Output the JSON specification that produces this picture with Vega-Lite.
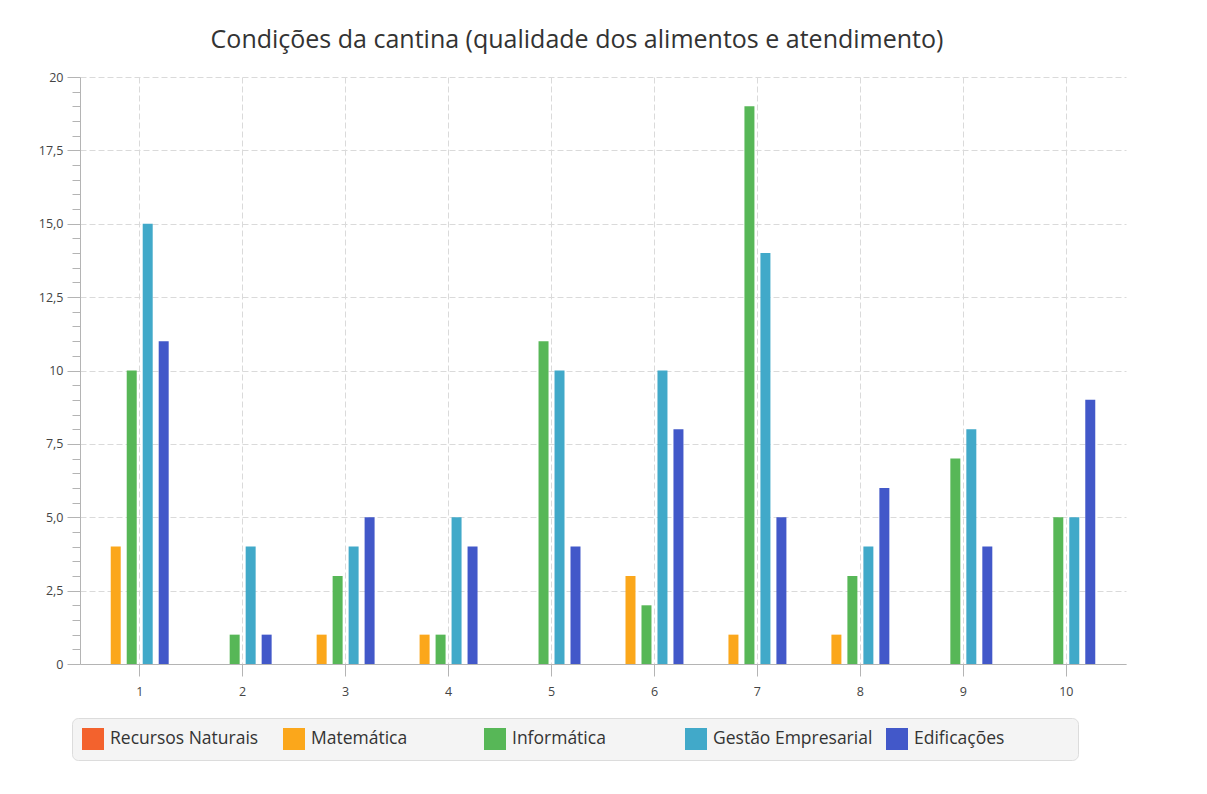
{
  "$schema": "https://vega.github.io/schema/vega-lite/v6.json",
  "autosize": "none",
  "width": 1046,
  "height": 587,
  "padding": {"left": 80, "top": 77, "right": 81, "bottom": 130},
  "background": "white",
  "title": {
    "text": "Condições da cantina (qualidade dos alimentos e atendimento)",
    "font": "Open Sans",
    "fontSize": 25,
    "fontWeight": "normal",
    "color": "#333333",
    "anchor": "middle",
    "dx": -26,
    "offset": -2,
    "baseline": "alphabetic"
  },
  "data": {
    "values": [
      {"grupo": "1", "curso": "Recursos Naturais", "valor": 0},
      {"grupo": "1", "curso": "Matemática", "valor": 4},
      {"grupo": "1", "curso": "Informática", "valor": 10},
      {"grupo": "1", "curso": "Gestão Empresarial", "valor": 15},
      {"grupo": "1", "curso": "Edificações", "valor": 11},
      {"grupo": "2", "curso": "Recursos Naturais", "valor": 0},
      {"grupo": "2", "curso": "Matemática", "valor": 0},
      {"grupo": "2", "curso": "Informática", "valor": 1},
      {"grupo": "2", "curso": "Gestão Empresarial", "valor": 4},
      {"grupo": "2", "curso": "Edificações", "valor": 1},
      {"grupo": "3", "curso": "Recursos Naturais", "valor": 0},
      {"grupo": "3", "curso": "Matemática", "valor": 1},
      {"grupo": "3", "curso": "Informática", "valor": 3},
      {"grupo": "3", "curso": "Gestão Empresarial", "valor": 4},
      {"grupo": "3", "curso": "Edificações", "valor": 5},
      {"grupo": "4", "curso": "Recursos Naturais", "valor": 0},
      {"grupo": "4", "curso": "Matemática", "valor": 1},
      {"grupo": "4", "curso": "Informática", "valor": 1},
      {"grupo": "4", "curso": "Gestão Empresarial", "valor": 5},
      {"grupo": "4", "curso": "Edificações", "valor": 4},
      {"grupo": "5", "curso": "Recursos Naturais", "valor": 0},
      {"grupo": "5", "curso": "Matemática", "valor": 0},
      {"grupo": "5", "curso": "Informática", "valor": 11},
      {"grupo": "5", "curso": "Gestão Empresarial", "valor": 10},
      {"grupo": "5", "curso": "Edificações", "valor": 4},
      {"grupo": "6", "curso": "Recursos Naturais", "valor": 0},
      {"grupo": "6", "curso": "Matemática", "valor": 3},
      {"grupo": "6", "curso": "Informática", "valor": 2},
      {"grupo": "6", "curso": "Gestão Empresarial", "valor": 10},
      {"grupo": "6", "curso": "Edificações", "valor": 8},
      {"grupo": "7", "curso": "Recursos Naturais", "valor": 0},
      {"grupo": "7", "curso": "Matemática", "valor": 1},
      {"grupo": "7", "curso": "Informática", "valor": 19},
      {"grupo": "7", "curso": "Gestão Empresarial", "valor": 14},
      {"grupo": "7", "curso": "Edificações", "valor": 5},
      {"grupo": "8", "curso": "Recursos Naturais", "valor": 0},
      {"grupo": "8", "curso": "Matemática", "valor": 1},
      {"grupo": "8", "curso": "Informática", "valor": 3},
      {"grupo": "8", "curso": "Gestão Empresarial", "valor": 4},
      {"grupo": "8", "curso": "Edificações", "valor": 6},
      {"grupo": "9", "curso": "Recursos Naturais", "valor": 0},
      {"grupo": "9", "curso": "Matemática", "valor": 0},
      {"grupo": "9", "curso": "Informática", "valor": 7},
      {"grupo": "9", "curso": "Gestão Empresarial", "valor": 8},
      {"grupo": "9", "curso": "Edificações", "valor": 4},
      {"grupo": "10", "curso": "Recursos Naturais", "valor": 0},
      {"grupo": "10", "curso": "Matemática", "valor": 0},
      {"grupo": "10", "curso": "Informática", "valor": 5},
      {"grupo": "10", "curso": "Gestão Empresarial", "valor": 5},
      {"grupo": "10", "curso": "Edificações", "valor": 9}
    ]
  },
  "layer": [
    {
      "mark": {"type": "bar", "stroke": null},
      "encoding": {
        "x": {
          "field": "grupo",
          "type": "ordinal",
          "sort": ["1","2","3","4","5","6","7","8","9","10"],
          "scale": {"paddingInner": 0, "paddingOuter": 0.08},
          "axis": {
            "title": null,
            "labelAngle": 0,
            "labelFont": "Open Sans",
            "labelFontSize": 12.5,
            "labelColor": "#444444",
            "labelPadding": 9,
            "tickSize": 12,
            "tickColor": "#b4b4b4",
            "domainColor": "#b4b4b4",
            "grid": true,
            "gridColor": "#dadada",
            "gridDash": [6, 3],
            "gridWidth": 1,
            "bandPosition": 0.5
          }
        },
        "xOffset": {
          "field": "curso",
          "type": "nominal",
          "scale": {
            "domain": ["Recursos Naturais", "Matemática", "Informática", "Gestão Empresarial", "Edificações", "~"],
            "paddingInner": 0.375,
            "paddingOuter": 0.4075
          }
        },
        "y": {
          "field": "valor",
          "type": "quantitative",
          "scale": {"domain": [0, 20], "nice": false},
          "axis": {
            "title": null,
            "values": [0, 2.5, 5, 7.5, 10, 12.5, 15, 17.5, 20],
            "labelExpr": "datum.value % 10 == 0 ? format(datum.value, 'd') : replace(format(datum.value, '.1f'), '.', ',')",
            "labelFont": "Open Sans",
            "labelFontSize": 12.5,
            "labelColor": "#444444",
            "labelPadding": 4,
            "tickSize": 13,
            "tickColor": "#b4b4b4",
            "domainColor": "#b4b4b4",
            "grid": true,
            "gridColor": "#dadada",
            "gridDash": [6, 3],
            "gridWidth": 1
          }
        },
        "color": {
          "field": "curso",
          "type": "nominal",
          "scale": {
            "domain": ["Recursos Naturais", "Matemática", "Informática", "Gestão Empresarial", "Edificações"],
            "range": ["#f3622d", "#fba71b", "#57b757", "#41a9c9", "#4258c9"]
          },
          "legend": {
            "title": null,
            "orient": "none",
            "legendX": -8,
            "legendY": 641,
            "direction": "horizontal",
            "columns": 5,
            "gridAlign": "all",
            "columnPadding": 13,
            "fillColor": "#f4f4f4",
            "strokeColor": "#dcdcdc",
            "cornerRadius": 6,
            "padding": 10,
            "symbolType": "square",
            "symbolSize": 484,
            "symbolStrokeWidth": 0,
            "symbolOpacity": 1,
            "labelFont": "Open Sans",
            "labelFontSize": 17.5,
            "labelColor": "#333333",
            "labelOffset": 6,
            "labelLimit": 300,
            "labelExpr": "indexof(datum.label, 'Edifica') == 0 ? datum.label + '\u00a0\u00a0\u00a0\u00a0\u00a0\u00a0\u00a0\u00a0\u00a0\u00a0\u00a0\u00a0\u00a0\u00a0\u200b' : datum.label"
          }
        }
      }
    },
    {
      "mark": {"type": "tick", "opacity": 0},
      "encoding": {
        "y": {
          "field": "valor",
          "type": "quantitative",
          "axis": {
            "orient": "left",
            "title": null,
            "values": [0.5,1,1.5,2,3,3.5,4,4.5,5.5,6,6.5,7,8,8.5,9,9.5,10.5,11,11.5,12,13,13.5,14,14.5,15.5,16,16.5,17,18,18.5,19,19.5],
            "labels": false,
            "domain": false,
            "grid": false,
            "tickSize": 8,
            "tickColor": "#b4b4b4"
          }
        }
      }
    }
  ],
  "resolve": {"axis": {"y": "independent"}},
  "config": {
    "view": {"stroke": null}
  }
}
